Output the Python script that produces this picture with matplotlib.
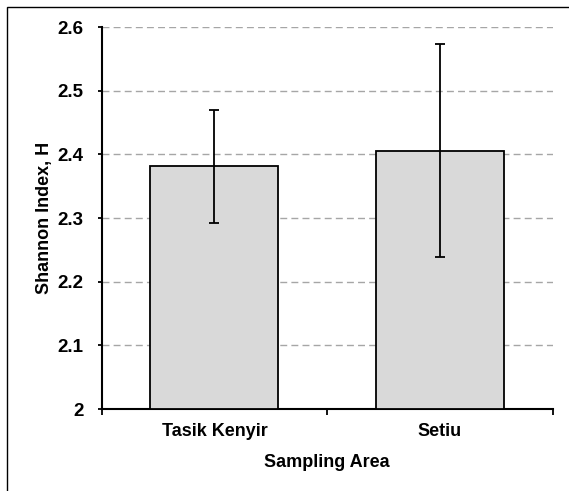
import matplotlib
matplotlib.use("Agg")
import matplotlib.pyplot as plt
from matplotlib.patches import Rectangle

categories = ["Tasik Kenyir", "Setiu"]
values = [2.381, 2.406]
errors = [0.089, 0.167]
yticks = [2.0, 2.1, 2.2, 2.3, 2.4, 2.5, 2.6]
ytick_labels = ["2", "2.1", "2.2", "2.3", "2.4", "2.5", "2.6"]

plt.rcParams['font.family'] = ['Liberation Sans', 'DejaVu Sans']
plt.rcParams['font.weight'] = 'bold'

fig = plt.figure(figsize=(5.69, 4.91), dpi=100)
ax = fig.add_axes([101.7/569, 1 - 409/491, (552.5 - 101.7)/569, (409 - 27)/491])

x = [0.5, 1.5]
ax.bar(x, [v - 2.0 for v in values], bottom=2.0, width=0.567, color="#d9d9d9",
       edgecolor="black", linewidth=1.3, zorder=3)
ax.errorbar(x, values, yerr=errors, fmt='none', ecolor='black', elinewidth=1.3,
            capsize=3.5, capthick=1.3, zorder=4)

ax.set_xlim(0, 2)
ax.set_ylim(2.0, 2.6)
ax.set_yticks(yticks)
ax.set_yticklabels(ytick_labels, fontsize=13.5, fontweight='bold')
ax.set_xticks([0, 1, 2])
ax.set_xticklabels([])
ax.set_xticks(x, minor=True)
ax.set_xticklabels(categories, minor=True, fontsize=13, fontweight='bold')
ax.tick_params(axis='x', which='minor', length=0, pad=10)
ax.tick_params(axis='x', which='major', length=4, width=1.3, direction='out')
ax.tick_params(axis='y', length=3, width=1.3, direction='out', pad=10)

ax.yaxis.grid(True, linestyle=(0, (5, 3)), color='#a6a6a6', linewidth=1.0, zorder=0)
ax.set_axisbelow(True)
for s in ['top', 'right']:
    ax.spines[s].set_visible(False)
for s in ['left', 'bottom']:
    ax.spines[s].set_linewidth(1.5)

ax.set_ylabel("Shannon Index, H", fontsize=13, fontweight='bold', labelpad=3)
ax.set_xlabel("Sampling Area", fontsize=13, fontweight='bold', labelpad=10)

# outer frame: only left and top edges fall inside the image
fig.patches.append(Rectangle((7/569, -0.1), 1.2, 1 - 6.5/491 + 0.1,
                             transform=fig.transFigure, fill=False, edgecolor='black',
                             linewidth=1.0))

fig.savefig("out.png", dpi=100)
